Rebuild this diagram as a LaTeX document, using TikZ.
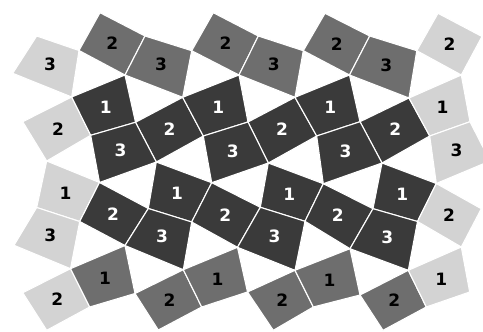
\documentclass[tikz,border=0pt]{standalone}
\usepackage{fontspec}
\setmainfont{DejaVu Sans}
\definecolor{dk}{HTML}{3A3A3A}
\definecolor{md}{HTML}{6E6E6E}
\definecolor{lt}{HTML}{D3D3D3}
\tikzset{
  tdk/.style={fill=dk, draw=white, line width=1.1pt, line join=round},
  tmd/.style={fill=md, draw=white, line width=1.1pt, line join=round},
  tlt/.style={fill=lt, draw=white, line width=1.1pt, line join=round},
  ltdk/.style={text=white, font=\bfseries\fontsize{17}{17}\selectfont, inner sep=0pt},
  ltmd/.style={text=black, font=\bfseries\fontsize{17}{17}\selectfont, inner sep=0pt},
  ltlt/.style={text=black, font=\bfseries\fontsize{17}{17}\selectfont, inner sep=0pt}
}
\newcommand\tile[7]{%
  \filldraw[t#1] (#2)--(#3)--(#4)--(#5)--cycle;
  \node[lt#1] (#7) at (barycentric cs:#2=1,#3=1,#4=1,#5=1) {#6};}
\begin{document}
\begin{tikzpicture}[x=1pt,y=-1pt]
\useasboundingbox (0,0) rectangle (483,332);
\clip (0,0) rectangle (483,332);
% vertices
\coordinate (A0) at (100,12.7); \coordinate (A1) at (213.3,12.7); \coordinate (A2) at (325,13.3); \coordinate (A3) at (438,13.3);
\coordinate (Bm1) at (36.7,36); \coordinate (B0) at (145,36); \coordinate (B1) at (258.3,36); \coordinate (B2) at (369.7,36); \coordinate (B3) at (482,36.5);
\coordinate (Cm1) at (79,50.5); \coordinate (C0) at (191.7,50.7); \coordinate (C1) at (303.3,50.7); \coordinate (C2) at (416.8,50.7);
\coordinate (Pm1) at (12.7,73.3); \coordinate (P0) at (125,75); \coordinate (P1) at (239,75); \coordinate (P2) at (349.5,75); \coordinate (P3) at (461.3,75);
\coordinate (Dm1) at (71.7,97); \coordinate (D0) at (182.7,97.3); \coordinate (D1) at (295,97.3); \coordinate (D2) at (409,98);
\coordinate (Qm1) at (22.7,121.7); \coordinate (Q0) at (135.5,122.3); \coordinate (Q1) at (248,122); \coordinate (Q2) at (360,121.7); \coordinate (Q3) at (470,121.7);
\coordinate (R0) at (90.7,135.3); \coordinate (R1) at (203.3,136); \coordinate (R2) at (316.7,136); \coordinate (R3) at (429.7,136);
\coordinate (Sm1) at (46.7,161); \coordinate (S0) at (156.3,162); \coordinate (S1) at (268.3,163); \coordinate (S2) at (382,163); \coordinate (S3) at (490,161);
\coordinate (Um1) at (99.5,182.5); \coordinate (U0) at (211.7,182.7); \coordinate (U1) at (323.3,183.7); \coordinate (U2) at (436.3,183.5);
\coordinate (Vm1) at (79.7,221.5); \coordinate (V0) at (191.7,222); \coordinate (V1) at (305,221.3); \coordinate (V2) at (417.5,221.5);
\coordinate (Wm1) at (36.7,207.5); \coordinate (W0) at (148.3,208.5); \coordinate (W1) at (260.3,207.3); \coordinate (W2) at (373,208.7); \coordinate (W3) at (481.3,208.7);
\coordinate (Ym2) at (14,245.3); \coordinate (Ym1) at (125,245.5); \coordinate (Y0) at (237.5,247.3); \coordinate (Y1) at (350,248.7); \coordinate (Y2) at (461.3,247);
\coordinate (Zm1) at (70.5,268.7); \coordinate (Z0) at (183.3,269.7); \coordinate (Z1) at (295,270.3); \coordinate (Z2) at (408.3,270.3);
\coordinate (AAm2) at (22.7,292.7); \coordinate (AAm1) at (135,293.5); \coordinate (AA0) at (247.5,292); \coordinate (AA1) at (360,295); \coordinate (AA2) at (469.7,292);
\coordinate (BBm1) at (89.7,307); \coordinate (BB0) at (201.7,307); \coordinate (BB1) at (313.3,307); \coordinate (BB2) at (426.3,307);
\coordinate (CCm1) at (46.7,330.3); \coordinate (CC0) at (158.3,330); \coordinate (CC1) at (273.3,330.3); \coordinate (CC2) at (383,330.3);
% top row
\tile{lt}{Bm1}{Cm1}{Dm1}{Pm1}{3}{ta}
\tile{md}{A0}{B0}{P0}{Cm1}{2}{tb}
\tile{md}{B0}{C0}{D0}{P0}{3}{tc}
\tile{md}{A1}{B1}{P1}{C0}{2}{td}
\tile{md}{B1}{C1}{D1}{P1}{3}{te}
\tile{md}{A2}{B2}{P2}{C1}{2}{tf}
\tile{md}{B2}{C2}{D2}{P2}{3}{tg}
\tile{lt}{A3}{B3}{P3}{C2}{2}{th}
% row B
\tile{lt}{Dm1}{R0}{Sm1}{Qm1}{2}{ba}
\tile{dk}{Dm1}{P0}{Q0}{R0}{1}{bb}
\tile{dk}{D0}{R1}{S0}{Q0}{2}{bc}
\tile{dk}{D0}{P1}{Q1}{R1}{1}{bd}
\tile{dk}{D1}{R2}{S1}{Q1}{2}{be}
\tile{dk}{D1}{P2}{Q2}{R2}{1}{bf}
\tile{dk}{D2}{R3}{S2}{Q2}{2}{bg}
\tile{lt}{D2}{P3}{Q3}{R3}{1}{bh}
% row C
\tile{dk}{R0}{Q0}{S0}{Um1}{3}{ca}
\tile{dk}{R1}{Q1}{S1}{U0}{3}{cb}
\tile{dk}{R2}{Q2}{S2}{U1}{3}{cc}
\tile{lt}{R3}{Q3}{S3}{U2}{3}{cd}
% row D
\tile{lt}{Sm1}{Um1}{Vm1}{Wm1}{1}{da}
\tile{dk}{S0}{U0}{V0}{W0}{1}{db}
\tile{dk}{S1}{U1}{V1}{W1}{1}{dc}
\tile{dk}{S2}{U2}{V2}{W2}{1}{dd}
% row E
\tile{lt}{Wm1}{Vm1}{Zm1}{Ym2}{3}{ea}
\tile{dk}{Um1}{W0}{Ym1}{Vm1}{2}{eb}
\tile{dk}{W0}{V0}{Z0}{Ym1}{3}{ec}
\tile{dk}{U0}{W1}{Y0}{V0}{2}{ed}
\tile{dk}{W1}{V1}{Z1}{Y0}{3}{ee}
\tile{dk}{U1}{W2}{Y1}{V1}{2}{ef}
\tile{dk}{W2}{V2}{Z2}{Y1}{3}{eg}
\tile{lt}{U2}{W3}{Y2}{V2}{2}{eh}
% bottom row
\tile{lt}{Zm1}{BBm1}{CCm1}{AAm2}{2}{fa}
\tile{md}{Zm1}{Ym1}{AAm1}{BBm1}{1}{fb}
\tile{md}{Z0}{BB0}{CC0}{AAm1}{2}{fc}
\tile{md}{Z0}{Y0}{AA0}{BB0}{1}{fd}
\tile{md}{Z1}{BB1}{CC1}{AA0}{2}{fe}
\tile{md}{Z1}{Y1}{AA1}{BB1}{1}{ff}
\tile{md}{Z2}{BB2}{CC2}{AA1}{2}{fg}
\tile{lt}{Z2}{Y2}{AA2}{BB2}{1}{fh}
\end{tikzpicture}
\end{document}
